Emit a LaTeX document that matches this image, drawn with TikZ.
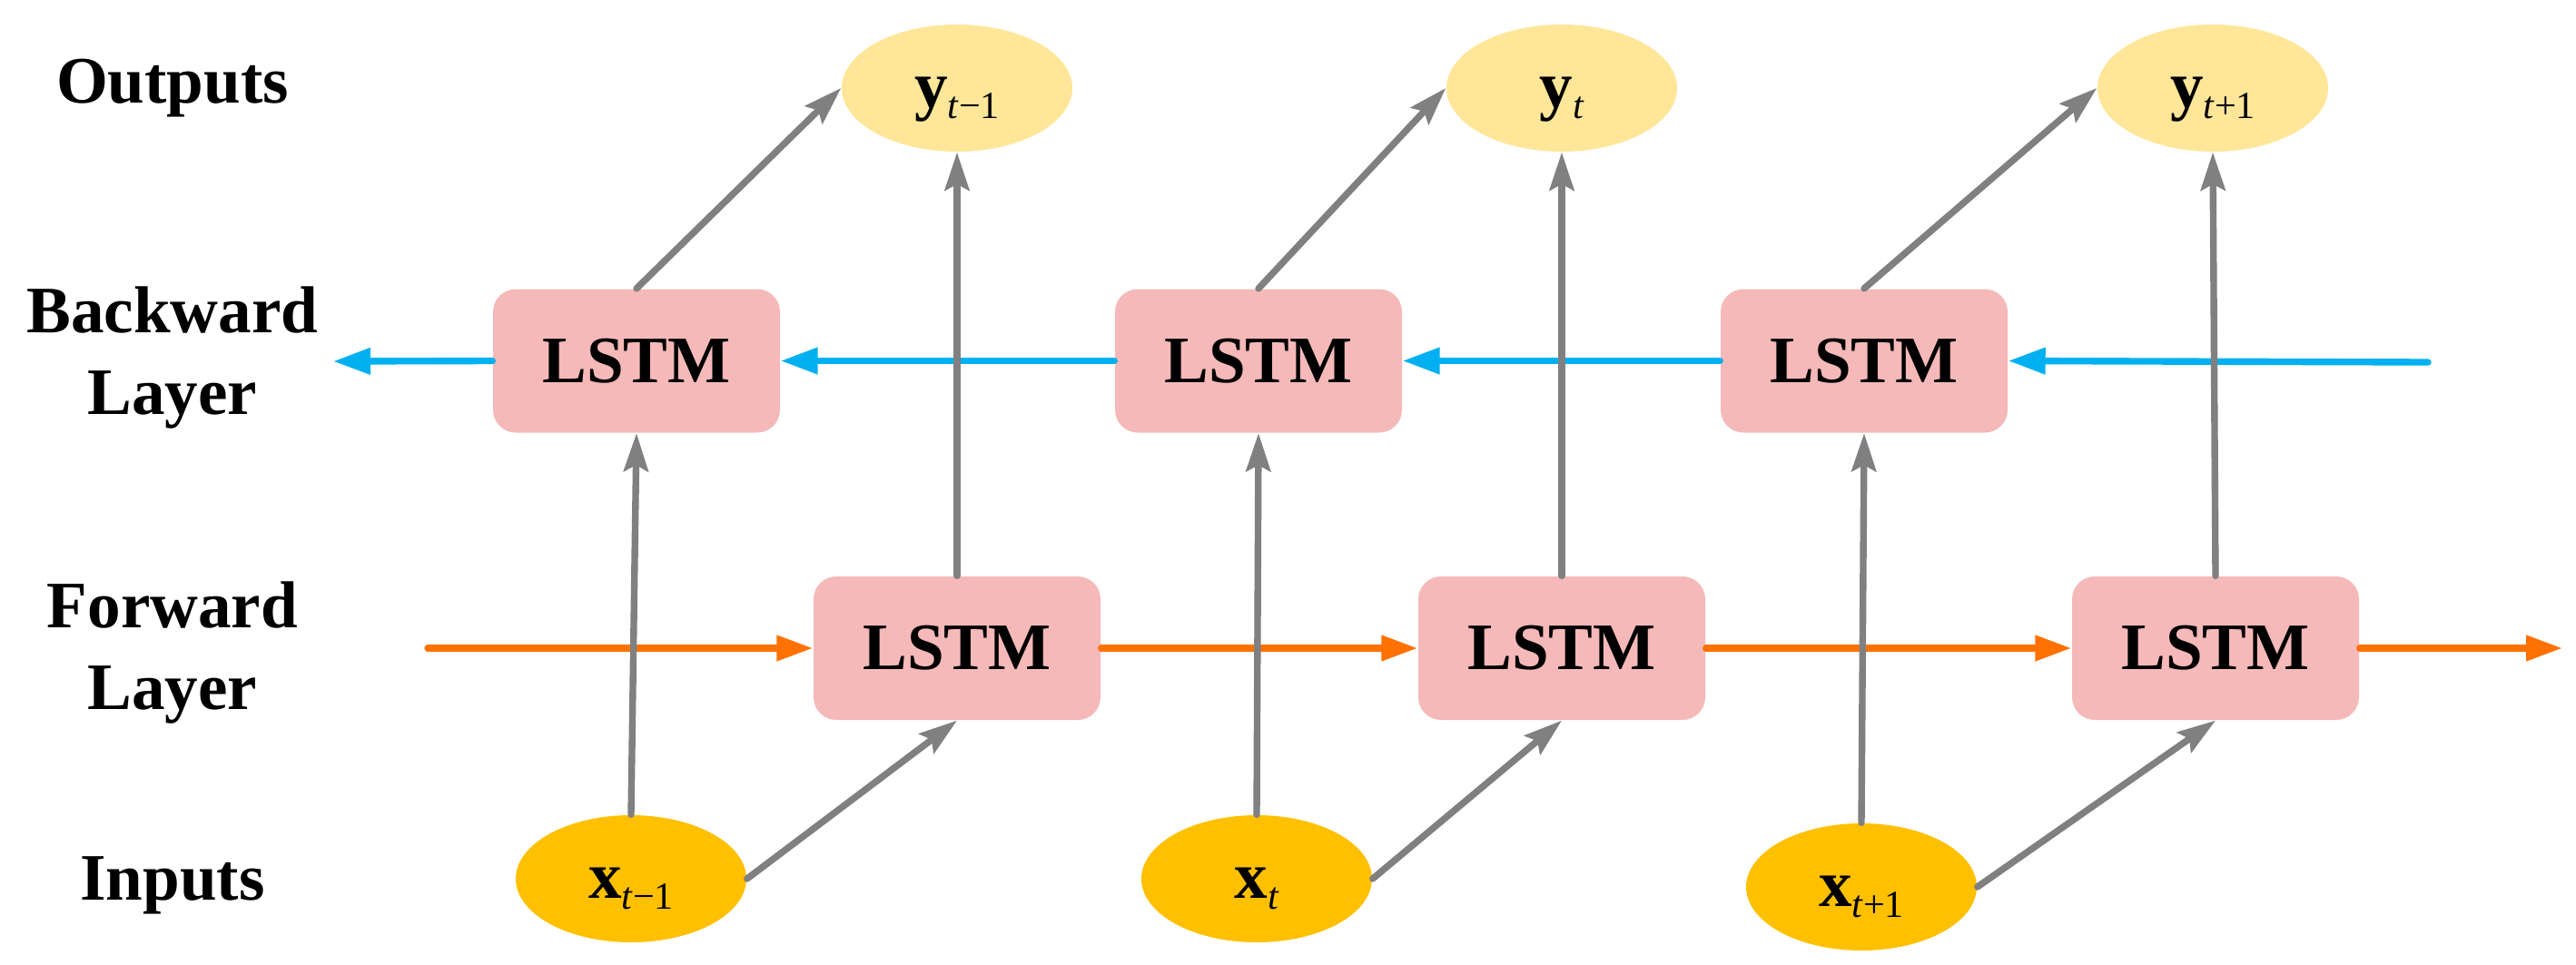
\documentclass[tikz,border=0pt]{standalone}
\usepackage{fontspec}
\setmainfont{Liberation Serif}
\usetikzlibrary{arrows.meta,shapes.geometric}
\definecolor{lstmfill}{HTML}{F4B9B8}
\definecolor{yfill}{HTML}{FFE699}
\definecolor{xfill}{HTML}{FFC000}
\definecolor{bline}{HTML}{00B0F0}
\definecolor{oline}{HTML}{FF7100}
\definecolor{gline}{HTML}{808080}
\newcommand{\vsub}[1]{\raisebox{-3.4pt}{\fontsize{12}{12}\selectfont #1}}
\tikzset{
  lab/.style={font=\fontsize{20.8}{25}\selectfont\bfseries, anchor=base, inner sep=0pt},
  lstm/.style={rectangle, rounded corners=0.25cm, fill=lstmfill, draw=none,
    minimum width=3.16cm, minimum height=1.58cm, inner sep=0pt,
    font=\fontsize{20.8}{25}\selectfont\bfseries},
  yell/.style={ellipse, fill=yfill, draw=none, minimum width=2.54cm, minimum height=1.40cm,
    inner sep=0pt, text height=12pt, text depth=0pt, font=\fontsize{20.8}{25}\selectfont},
  xell/.style={yell, fill=xfill},
  garrow/.style={draw=gline, line width=2.1pt, line cap=round,
    -{Stealth[length=0.42cm,width=0.27cm,inset=0.07cm]}},
  barrow/.style={draw=bline, line width=2.1pt, line cap=round,
    -{Triangle[length=0.41cm,width=0.28cm]}},
  oarrow/.style={draw=oline, line width=2.1pt, line cap=round,
    -{Triangle[length=0.40cm,width=0.27cm]}}
}
\begin{document}
\begin{tikzpicture}
\useasboundingbox (0,0) rectangle (28.37,-10.62);
% row labels
\node[lab] (lOut) at (1.90,-1.13) {Outputs};
\node[lab] (lBack1) at (1.90,-3.66) {Backward};
\node[lab] (lBack2) at (1.90,-4.56) {Layer};
\node[lab] (lFor1) at (1.90,-6.91) {Forward};
\node[lab] (lFor2) at (1.90,-7.81) {Layer};
\node[lab] (lIn) at (1.90,-9.91) {Inputs};
% outputs
\node[yell] (y1) at (10.54,-0.97) {\textbf{y}\vsub{\textit{t}−1}};
\node[yell] (y2) at (17.20,-0.97) {\textbf{y}\vsub{\textit{t}}};
\node[yell] (y3) at (24.37,-0.97) {\textbf{y}\vsub{\textit{t}+1}};
% backward
\node[lstm] (b1) at (7.01,-3.975) {LSTM};
\node[lstm] (b2) at (13.86,-3.975) {LSTM};
\node[lstm] (b3) at (20.53,-3.975) {LSTM};
% forward
\node[lstm] (f1) at (10.54,-7.14) {LSTM};
\node[lstm] (f2) at (17.20,-7.14) {LSTM};
\node[lstm] (f3) at (24.40,-7.14) {LSTM};
% inputs
\node[xell] (x1) at (6.95,-9.68) {\textbf{x}\vsub{\textit{t}−1}};
\node[xell] (x2) at (13.84,-9.68) {\textbf{x}\vsub{\textit{t}}};
\node[xell] (x3) at (20.50,-9.77) {\textbf{x}\vsub{\textit{t}+1}};
% free ends
\coordinate (bR) at (26.74,-3.99);
\coordinate (bL) at (3.67,-3.98);
\coordinate (oL) at (4.71,-7.14);
\coordinate (oR) at (28.22,-7.14);
% backward chain
\draw[barrow] (bR) -- (b3.east);
\draw[barrow] (b3.west) -- (b2.east);
\draw[barrow] (b2.west) -- (b1.east);
\draw[barrow] (b1.west) -- (bL);
% forward chain
\draw[oarrow] (oL) -- (f1.west);
\draw[oarrow] (f1.east) -- (f2.west);
\draw[oarrow] (f2.east) -- (f3.west);
\draw[oarrow] (f3.east) -- (oR);
% inputs to layers
\draw[garrow] (x1.north) -- (b1.south);
\draw[garrow] (x2.north) -- (b2.south);
\draw[garrow] (x3.north) -- (b3.south);
\draw[garrow] (x1.east) -- (f1.south);
\draw[garrow] (x2.east) -- (f2.south);
\draw[garrow] (x3.east) -- (f3.south);
% layers to outputs
\draw[garrow] (f1.north) -- (y1.south);
\draw[garrow] (f2.north) -- (y2.south);
\draw[garrow] (f3.north) -- (y3.south);
\draw[garrow] (b1.north) -- (y1.west);
\draw[garrow] (b2.north) -- (y2.west);
\draw[garrow] (b3.north) -- (y3.west);
\end{tikzpicture}
\end{document}
